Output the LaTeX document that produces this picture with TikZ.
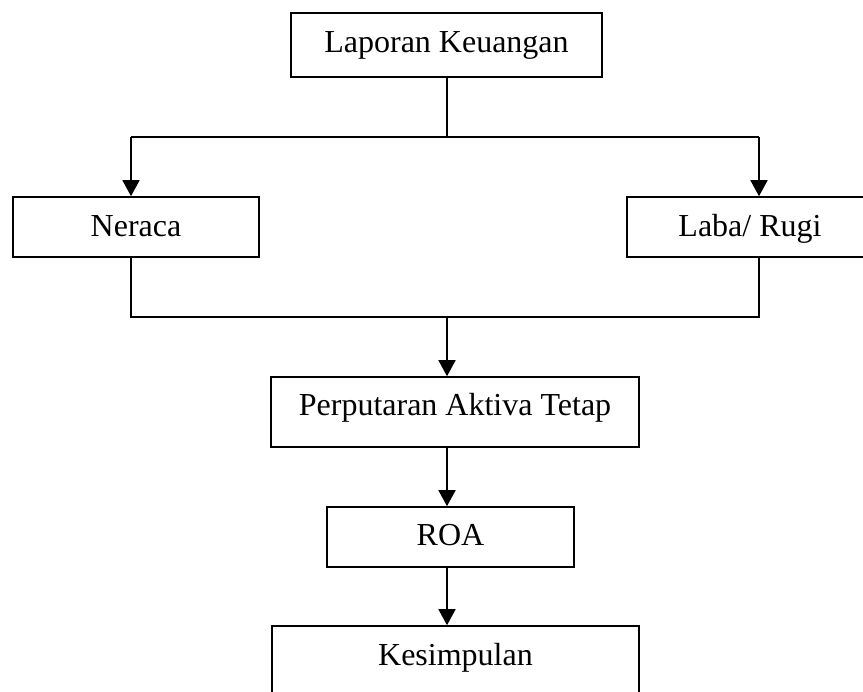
\documentclass[tikz,border=0pt]{standalone}
\usepackage{fontspec}
\setmainfont{Liberation Serif}
\usetikzlibrary{arrows.meta}
\begin{document}
\begin{tikzpicture}[x=1pt,y=-1pt,
  box/.style={draw=black,line width=1.6pt,inner sep=0pt,font=\fontsize{32}{38}\selectfont,anchor=center,text height=24pt,text depth=5pt},
  conn/.style={line width=1.6pt},
  arr/.style={line width=1.6pt,-{Triangle[length=16pt,width=17pt]}}]
\useasboundingbox (0,0) rectangle (863,692);
\clip (0,0) rectangle (863,692);
\fill[white] (0,0) rectangle (863,692);
\node[box,minimum width=311pt,minimum height=64pt,text depth=8pt] (lap) at (446.5,45) {Laporan Keuangan};
\node[box,minimum width=246pt,minimum height=60pt] (ner) at (136,227) {Neraca};
\node[box,minimum width=246pt,minimum height=60pt] (lab) at (750,227) {Laba/ Rugi};
\node[box,minimum width=368pt,minimum height=70pt,text depth=16pt] (per) at (455,412) {Perputaran Aktiva Tetap};
\node[box,minimum width=247pt,minimum height=60pt,text depth=6pt] (roa) at (450.5,537) {ROA};
\node[box,minimum width=367pt,minimum height=70pt,text depth=14pt] (kes) at (455.5,661) {Kesimpulan};
\coordinate (j1) at (447,137);
\coordinate (jl) at (131,137);
\coordinate (jr) at (759,137);
\coordinate (k1) at (447,317);
\coordinate (kl) at (131,317);
\coordinate (kr) at (759,317);
\draw[conn] (lap.south -| j1) -- (j1);
\draw[conn] (jl) -- (jr);
\draw[arr] (jl) -- (jl |- ner.north);
\draw[arr] (jr) -- (jr |- lab.north);
\draw[conn] (ner.south -| kl) -- (kl) -- (kr) -- (lab.south -| kr);
\draw[arr] (k1) -- (k1 |- per.north);
\draw[arr] (per.south -| k1) -- (k1 |- roa.north);
\draw[arr] (roa.south -| k1) -- (k1 |- kes.north);
\end{tikzpicture}
\end{document}
